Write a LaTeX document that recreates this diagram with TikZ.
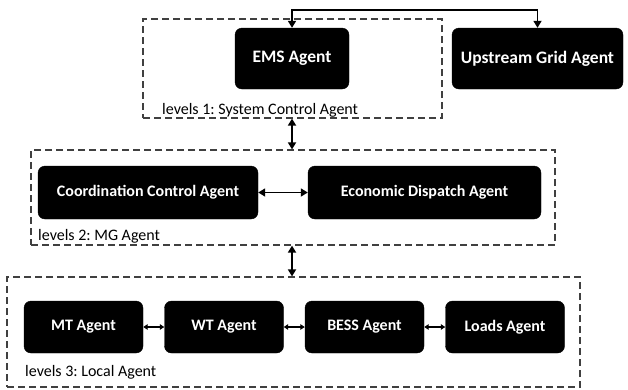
\documentclass[tikz,border=0pt]{standalone}
\usepackage{fontspec}
\setmainfont{Carlito}
\usetikzlibrary{arrows.meta}
\frenchspacing
\tikzset{
  agent/.style={rectangle, rounded corners=7pt, fill=black, draw=black, text=white,
    font=\bfseries\fontsize{16}{19}\selectfont, inner sep=0pt},
  topagent/.style={agent, font=\bfseries\fontsize{17.5}{21}\selectfont},
  levelbox/.style={rectangle, draw=black!75, line width=1.2pt, dash pattern=on 7pt off 4pt, inner sep=0pt},
  levellabel/.style={anchor=base west, inner sep=0pt, font=\fontsize{16}{19}\selectfont, text=black},
  link/.style={draw=black, line width=1.7pt, {Triangle[length=7pt,width=8pt]}-{Triangle[length=7pt,width=8pt]}},
  shortlink/.style={draw=black, line width=1.4pt, {Triangle[length=4.5pt,width=5.5pt]}-{Triangle[length=4.5pt,width=5.5pt]}}
}
\begin{document}
\begin{tikzpicture}[x=1pt,y=-1pt]
\useasboundingbox (0,0) rectangle (628,389);
% level boxes
\node[levelbox, minimum width=299pt, minimum height=99pt] (L1) at (292.5,68.5) {};
\node[levelbox, minimum width=524pt, minimum height=95pt] (L2) at (293,197.5) {};
\node[levelbox, minimum width=573pt, minimum height=110pt] (L3) at (293.5,332) {};
% level 1
\node[topagent, minimum width=114pt, minimum height=61pt] (ems) at (292,58.5) {EMS Agent};
\node[topagent, minimum width=171pt, minimum height=61pt] (up) at (537.5,58.5) {Upstream Grid Agent};
\node[levellabel] (lab1) at (162,114) {levels 1: System Control Agent};
% level 2
\node[agent, minimum width=220pt, minimum height=53pt] (coord) at (148,192.5) {Coordination Control Agent};
\node[agent, minimum width=233pt, minimum height=53pt] (eco) at (424.5,192.5) {Economic Dispatch Agent};
\node[levellabel] (lab2) at (38,240) {levels 2: MG Agent};
% level 3
\node[agent, minimum width=119pt, minimum height=52pt] (mt) at (83.5,327) {MT Agent};
\node[agent, minimum width=119pt, minimum height=52pt] (wt) at (224,327) {WT Agent};
\node[agent, minimum width=119pt, minimum height=52pt] (bess) at (364.5,327) {BESS Agent};
\node[agent, minimum width=119pt, minimum height=52pt] (loads) at (505,327) {Loads Agent};
\node[levellabel] (lab3) at (25,376) {levels 3: Local Agent};
% connectors
\draw[link] (ems.north) -- ++(0,-18) -| (up.north);
\draw[link] (L1.south -| ems.south) -- (L2.north -| ems.south);
\draw[link] (L2.south -| ems.south) -- (L3.north -| ems.south);
\draw[link] (coord.east) -- (eco.west);
\draw[shortlink] (mt.east) -- (wt.west);
\draw[shortlink] (wt.east) -- (bess.west);
\draw[shortlink] (bess.east) -- (loads.west);
\end{tikzpicture}
\end{document}
